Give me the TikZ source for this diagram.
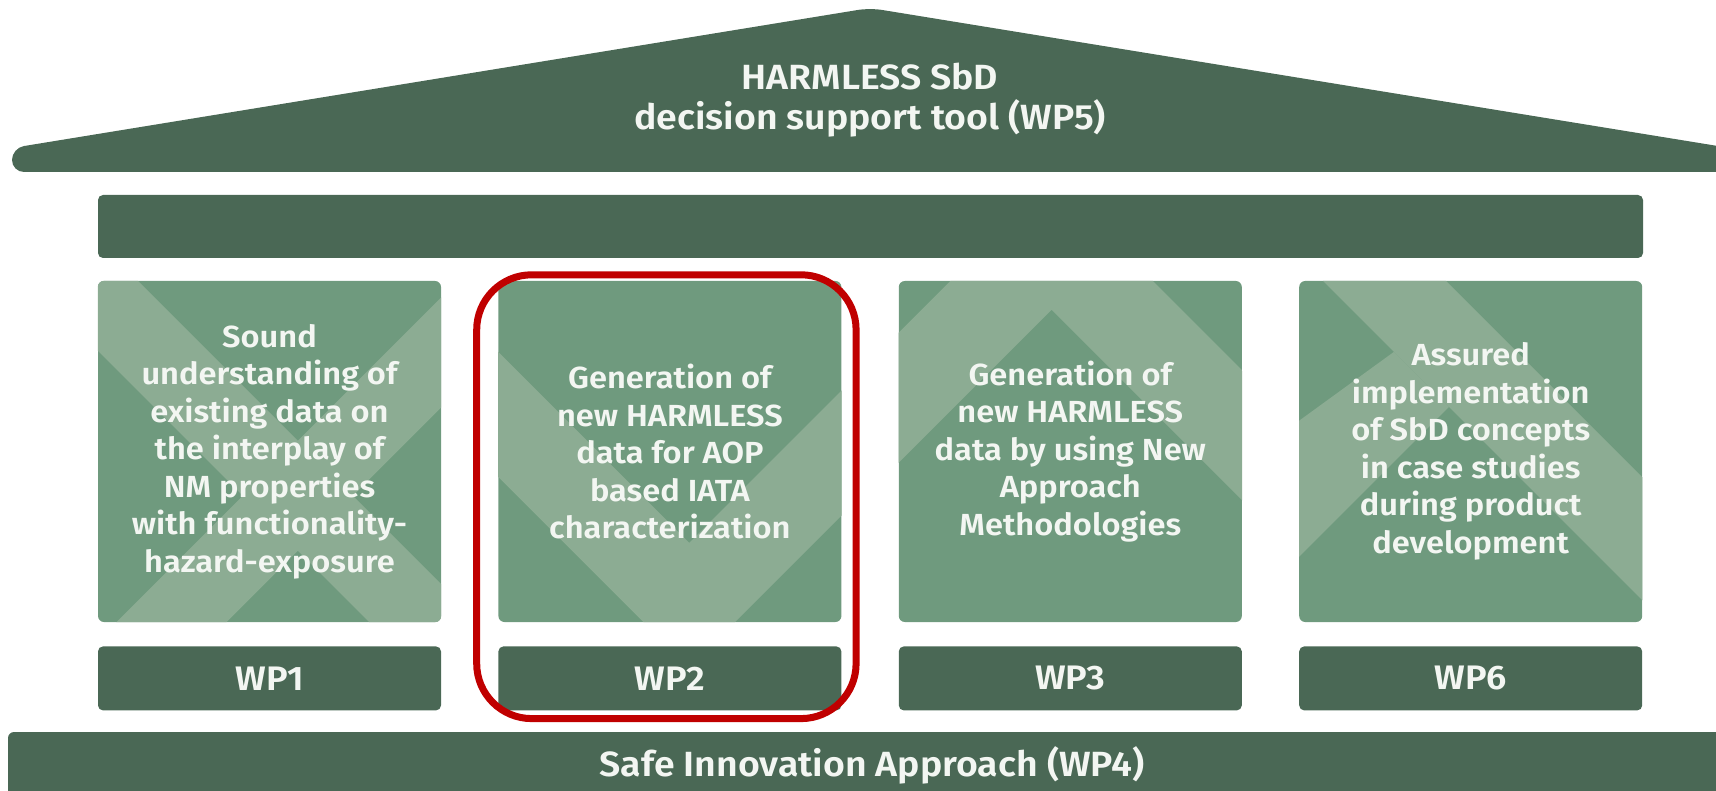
\documentclass[tikz,border=0pt]{standalone}
\usepackage{fontspec}
\setmainfont{Fira Sans SemiBold}[FakeStretch=1.07]
\usetikzlibrary{calc, positioning}

\definecolor{roofgreen}{HTML}{4A6855}
\definecolor{pillargreen}{HTML}{6F9A7E}
\definecolor{stripegreen}{HTML}{8CAC93}
\definecolor{textwhite}{HTML}{F3F6F2}
\definecolor{markred}{HTML}{C00000}

\tikzset{
  pillar/.style={fill=pillargreen, rounded corners=6pt, inner sep=0pt,
    minimum width=343pt, minimum height=341pt},
  pillartext/.style={align=center, text=textwhite,
    font=\fontsize{30.5}{37.5}\selectfont},
  wplabel/.style={fill=roofgreen, rounded corners=5pt, inner sep=0pt,
    minimum width=343pt, minimum height=64pt, text=textwhite,
    font=\fontsize{34}{40}\selectfont},
  beam/.style={fill=roofgreen, rounded corners=5pt, inner sep=0pt,
    minimum width=1545pt, minimum height=63pt},
  rooftext/.style={align=center, text=textwhite, font=\fontsize{35}{40}\selectfont},
  basetext/.style={text=textwhite, font=\fontsize{35}{40}\selectfont},
  band/.style={fill=stripegreen},
}

\begin{document}
\begin{tikzpicture}[x=1pt, y=-1pt]
  \path[use as bounding box, clip] (0,0) rectangle (1716,791);

  % roof
  \fill[roofgreen, rounded corners=12pt] (870,8) -- (12,148) -- (12,172)
    -- (1730,172) -- (1730,148) -- cycle;
  \node[rooftext] (roof) at (870,100) {HARMLESS SbD\\decision support tool (WP5)};

  \node[beam] (beam) at (870.5,226.5) {};

  % pillars
  \node[pillar] (p1) at (269.5,451.5) {};
  \node[pillar, right=57pt of p1] (p2) {};
  \node[pillar, right=57pt of p2] (p3) {};
  \node[pillar, right=57pt of p3] (p4) {};

  % light bands, pillar coordinates from the top left corner
  \begin{scope}
    \clip[rounded corners=6pt] (p1.north west) rectangle (p1.south east);
    \begin{scope}[shift={(p1.north west)}]
      \fill[band] (-70,0) -- (40,0) -- (440,400) -- (330,400) -- cycle;
      \fill[band] (360,0) -- (470,0) -- (70,400) -- (-40,400) -- cycle;
    \end{scope}
  \end{scope}
  \begin{scope}
    \clip[rounded corners=6pt] (p2.north west) rectangle (p2.south east);
    \fill[band, shift={(p2.north west)}] (-10,61) -- (191,262) -- (353,100)
      -- (353,225) -- (191,387) -- (-10,186) -- cycle;
  \end{scope}
  \begin{scope}
    \clip[rounded corners=6pt] (p3.north west) rectangle (p3.south east);
    \fill[band, shift={(p3.north west)}] (-10,192) -- (153,29) -- (353,229)
      -- (353,99) -- (153,-101) -- (-10,62) -- cycle;
  \end{scope}
  \begin{scope}
    \clip[rounded corners=6pt] (p4.north west) rectangle (p4.south east);
    \begin{scope}[shift={(p4.north west)}]
      \fill[band] (24,0) -- (147,0) -- (547,400) -- (424,400) -- cycle;
      \fill[band] (0,140) -- (95,71) -- (150,126) -- (0,276) -- cycle;
    \end{scope}
  \end{scope}

  \node[pillartext] (t1) at (p1)
    {Sound\\understanding of\\existing data on\\the interplay of\\NM properties\\with functionality-\\hazard-exposure};
  \node[pillartext] (t2) at (p2)
    {Generation of\\new HARMLESS\\data for AOP\\based IATA\\characterization};
  \node[pillartext] (t3) at (p3)
    {Generation of\\new HARMLESS\\data by using New\\Approach\\Methodologies};
  \node[pillartext] (t4) at (p4)
    {Assured\\implementation\\of SbD concepts\\in case studies\\during product\\development};

  \node[wplabel, below=24pt of p1] (w1) {WP1};
  \node[wplabel, below=24pt of p2] (w2) {WP2};
  \node[wplabel, below=24pt of p3] (w3) {WP3};
  \node[wplabel, below=24pt of p4] (w4) {WP6};

  % base
  \fill[roofgreen, rounded corners=6pt] (8,732) rectangle (1740,830);
  \node[basetext] (base) at (872,765) {Safe Innovation Approach (WP4)};

  % highlight of WP2
  \draw[markred, line width=7pt, rounded corners=55pt]
    ($(p2.north west)+(-21.5,-6)$) rectangle ($(w2.south east)+(14.5,8)$);
\end{tikzpicture}
\end{document}
